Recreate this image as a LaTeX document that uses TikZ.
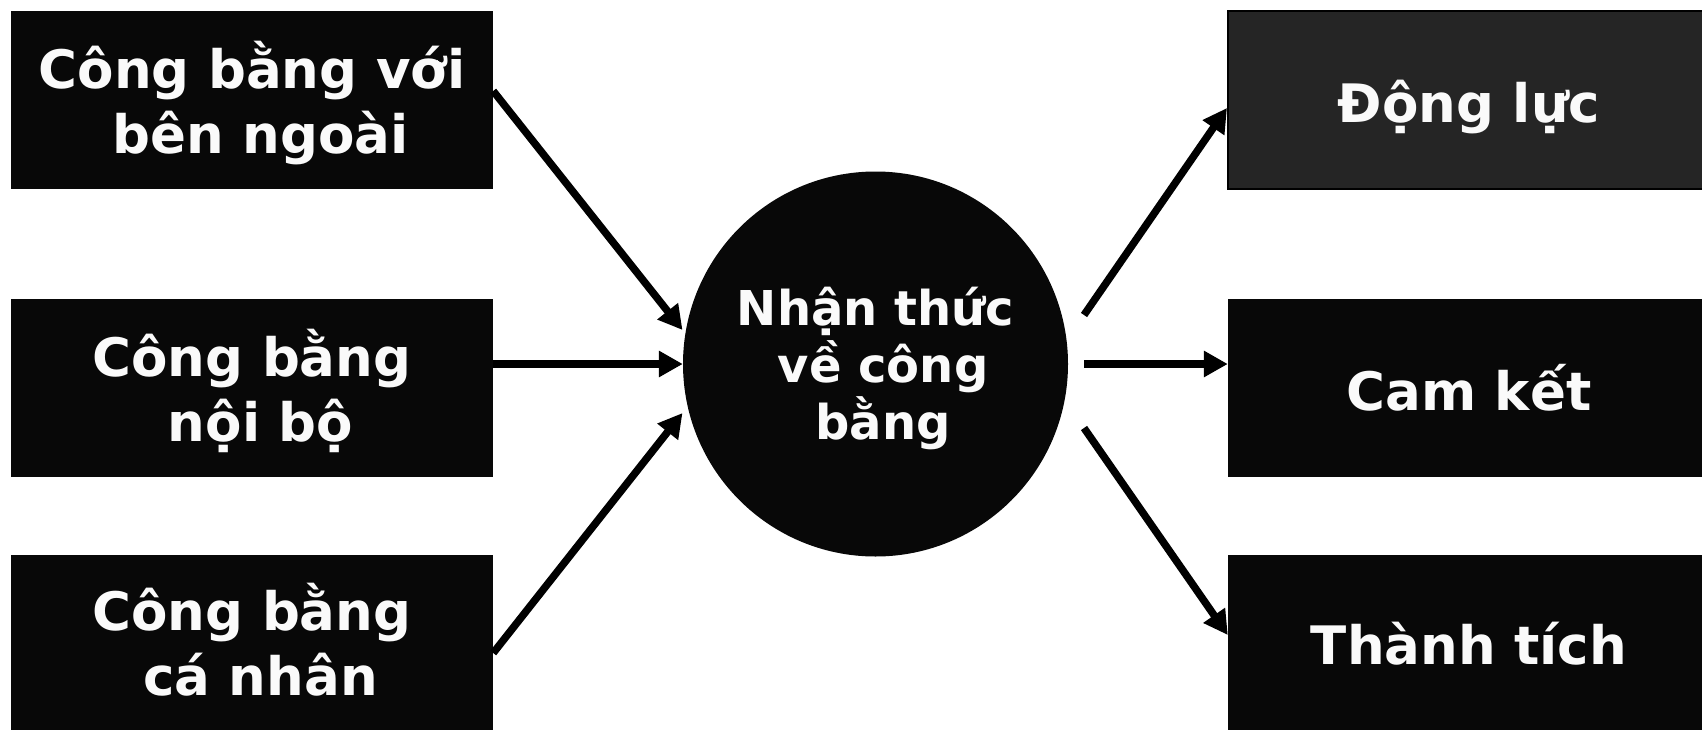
\documentclass[tikz,border=0pt]{standalone}
\usepackage{fontspec}
\setmainfont{DejaVu Sans}
\usetikzlibrary{arrows.meta,calc}
\definecolor{boxfill}{HTML}{080808}
\definecolor{boxgray}{HTML}{252525}
\definecolor{txt}{HTML}{FAFAFA}
\begin{document}
\begin{tikzpicture}[x=1pt,y=-1pt,
  box/.style={fill=boxfill, draw=none, minimum width=482pt, minimum height=178pt,
    inner sep=0pt, text=txt, font=\fontsize{53}{65}\selectfont\bfseries, align=center,
    text height=119pt, text depth=13pt},
  onebox/.style={box, text height=57pt, text depth=13pt},
  circ/.style={circle, fill=boxfill, minimum size=385pt, inner sep=0pt, text=txt,
    font=\fontsize{48}{57}\selectfont\bfseries, align=center,
    text height=162pt, text depth=12pt},
  arr/.style={line width=7.5pt, draw=black, -{Triangle[length=24pt,width=25pt]}}]
\clip (0,0) rectangle (1702,731);
\fill[white] (0,0) rectangle (1702,731);
% left boxes
\node[box] (b1) at (252,100) {Công bằng với\\\hspace*{0.32em}bên ngoài};
\node[box] (b2) at (252,388) {Công bằng\\\hspace*{0.32em}nội bộ};
\node[box, minimum height=175pt] (b3) at (252,642.5) {Công bằng\\\hspace*{0.32em}cá nhân};
% circle
\node[circ] (c) at (875.5,364) {Nhận thức\\\hspace*{0.32em}về công\\\hspace*{0.32em}bằng};
% right boxes
\node[onebox, fill=boxgray, draw=black, line width=2pt] (r1) at (1469,100) {Động lực};
\node[onebox] (r2) at (1469,388) {Cam kết};
\node[onebox, minimum height=175pt] (r3) at (1469,642.5) {Thành tích};
% free starts of outgoing arrows
\coordinate (o1) at (1084,315);
\coordinate (o2) at (1084,364);
\coordinate (o3) at (1084,428);
% incoming
\draw[arr] ($(b1.east)+(0,-9)$) -- ($(c.center)+(-193,-34)$);
\draw[arr] ($(b2.east)+(0,-24)$) -- (c.west);
\draw[arr] ($(b3.east)+(0,10.5)$) -- ($(c.center)+(-193,49)$);
% outgoing
\draw[arr] (o1) -- ($(r1.west)+(0,8)$);
\draw[arr] (o2) -- ($(r2.west)+(0,-24)$);
\draw[arr] (o3) -- ($(r3.west)+(0,-7.5)$);
\end{tikzpicture}
\end{document}
